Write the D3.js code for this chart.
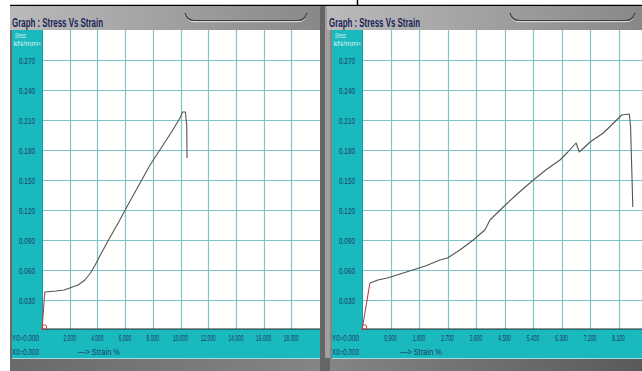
<!DOCTYPE html>
<html>
<head>
<meta charset="utf-8">
<script src="https://cdn.jsdelivr.net/npm/d3@7/dist/d3.min.js"></script>
<style>
  html, body { margin: 0; padding: 0; background: #ffffff; }
  svg { display: block; }
  text { font-family: "Liberation Sans Narrow", "Liberation Sans", Arial, sans-serif; }
</style>
</head>
<body>
<svg id="chart" width="642" height="371"></svg>
<script>
// Tensile test records: strain (%) vs stress (kN/mm²)
const leftStrain  = [0, 0.20, 1.00, 1.60, 2.00, 2.60, 3.10, 3.50, 3.80, 4.10, 4.80, 5.50, 6.20, 7.00, 7.80, 8.60, 9.40, 10.00, 10.15, 10.35, 10.45, 10.47];
const leftStress  = [0, 0.038, 0.039, 0.040, 0.042, 0.045, 0.050, 0.057, 0.064, 0.072, 0.090, 0.107, 0.125, 0.145, 0.165, 0.182, 0.199, 0.213, 0.218, 0.218, 0.205, 0.172];

const rightStrain = [0, 0.25, 0.50, 0.80, 1.20, 1.60, 2.00, 2.46, 2.70, 3.09, 3.51, 3.88, 4.04, 4.46, 4.90, 5.41, 5.80, 6.25, 6.50, 6.76, 6.86, 7.00, 7.20, 7.62, 8.04, 8.20, 8.44, 8.48, 8.55];
const rightStress = [0, 0.047, 0.050, 0.052, 0.056, 0.060, 0.064, 0.070, 0.072, 0.080, 0.090, 0.100, 0.110, 0.123, 0.136, 0.150, 0.160, 0.170, 0.178, 0.187, 0.178, 0.182, 0.188, 0.197, 0.210, 0.215, 0.216, 0.203, 0.123];

const stressTicks      = [0.030, 0.060, 0.090, 0.120, 0.150, 0.180, 0.210, 0.240, 0.270];
const leftStrainTicks  = [2, 4, 6, 8, 10, 12, 14, 16, 18];
const rightStrainTicks = [0.9, 1.8, 2.7, 3.6, 4.5, 5.4, 6.3, 7.2, 8.1];

const titleText = "Graph :  Stress Vs Strain";
const yLabel1 = "Stress";
const yLabel2 = "kN/mm²";
const originY = "Y0=0.000";
const originX = "X0=0.000";
const xLabel = "—> Strain  %";

const TEAL = "#19b9bd";
const GRID = "#7ec5c8";
const INK = "#213a66";

const svg = d3.select("#chart");
const defs = svg.append("defs");

const hdrGrad = defs.append("linearGradient").attr("id", "hdr").attr("x1", 0).attr("x2", 1).attr("y1", 0).attr("y2", 0);
hdrGrad.append("stop").attr("offset", 0).attr("stop-color", "#bababa");
hdrGrad.append("stop").attr("offset", 1).attr("stop-color", "#888888");

const footGrad = defs.append("linearGradient").attr("id", "foot").attr("x1", 0).attr("x2", 1).attr("y1", 0).attr("y2", 0);
footGrad.append("stop").attr("offset", 0).attr("stop-color", "#6a6a6a");
footGrad.append("stop").attr("offset", 0.5).attr("stop-color", "#858585");
footGrad.append("stop").attr("offset", 1).attr("stop-color", "#5a5a5a");

// frame: white margin with a thin black rule above the panels
svg.append("rect").attr("x", 10).attr("y", 6).attr("width", 632).attr("height", 365).attr("fill", "url(#foot)");
svg.append("line").attr("x1", 10).attr("x2", 642).attr("y1", 5.5).attr("y2", 5.5).attr("stroke", "#000").attr("stroke-width", 1.5);
svg.append("line").attr("x1", 357.5).attr("x2", 357.5).attr("y1", 0).attr("y2", 6).attr("stroke", "#000").attr("stroke-width", 1.5);

const y = d3.scaleLinear().domain([0, 0.3]).range([330, 30]);

function drawPanel(cfg) {
  const g = svg.append("g");
  const x = d3.scaleLinear().domain([0, cfg.xMax]).range([cfg.plotLeft, cfg.plotRight]);

  // header strip
  g.append("rect").attr("x", cfg.panelLeft).attr("y", 6).attr("width", cfg.plotRight - cfg.panelLeft).attr("height", 24).attr("fill", "url(#hdr)");
  g.append("text").attr("x", cfg.panelLeft + 2).attr("y", 26.5)
    .attr("font-size", 12.5).attr("font-weight", "bold").attr("fill", "#1b2458")
    .attr("textLength", 91).attr("lengthAdjust", "spacingAndGlyphs")
    .text(titleText);

  // tab outline in the header
  const tx0 = cfg.tabLeft, tx1 = cfg.tabRight;
  const tab = `M${tx0},13 Q${tx0 + 2},20.5 ${tx0 + 9},20.5 L${tx1 - 9},20.5 Q${tx1 - 2},20.5 ${tx1},13`;
  g.append("path").attr("d", tab).attr("transform", "translate(0,1.2)").attr("fill", "none").attr("stroke", "#e4e4e4").attr("stroke-width", 1);
  g.append("path").attr("d", tab).attr("fill", "none").attr("stroke", "#3c3c3c").attr("stroke-width", 1.2);

  // teal axis column and footer band
  g.append("rect").attr("x", cfg.colLeft).attr("y", 30).attr("width", cfg.plotLeft - cfg.colLeft).attr("height", 328).attr("fill", TEAL);
  g.append("rect").attr("x", cfg.colLeft).attr("y", 329).attr("width", cfg.plotRight - cfg.colLeft).attr("height", 29).attr("fill", TEAL);
  g.append("line").attr("x1", cfg.colLeft).attr("x2", cfg.plotRight).attr("y1", 358.5).attr("y2", 358.5).attr("stroke", "#9fdcdc").attr("stroke-width", 1);

  // plot area
  g.append("rect").attr("x", cfg.plotLeft).attr("y", 30).attr("width", cfg.plotRight - cfg.plotLeft).attr("height", 299).attr("fill", "#ffffff");

  // grid
  g.append("g").selectAll("line").data(cfg.xTicks).join("line")
    .attr("x1", d => Math.round(x(d)) + 0.5).attr("x2", d => Math.round(x(d)) + 0.5)
    .attr("y1", 30).attr("y2", 329)
    .attr("stroke", GRID).attr("stroke-width", 1.2);
  g.append("g").selectAll("line").data(stressTicks).join("line")
    .attr("x1", cfg.plotLeft).attr("x2", cfg.plotRight)
    .attr("y1", d => Math.round(y(d)) + 0.5).attr("y2", d => Math.round(y(d)) + 0.5)
    .attr("stroke", GRID).attr("stroke-width", 1.2);

  // axis lines
  g.append("line").attr("x1", cfg.plotLeft).attr("x2", cfg.plotRight).attr("y1", 329).attr("y2", 329).attr("stroke", "#2a2a2a").attr("stroke-width", 1.2);
  g.append("line").attr("x1", cfg.plotLeft + 0.5).attr("x2", cfg.plotLeft + 0.5).attr("y1", 30).attr("y2", 329).attr("stroke", "#0f9ea2").attr("stroke-width", 1);

  // y tick labels
  const colMid = (cfg.colLeft + cfg.plotLeft) / 2;
  g.append("g").selectAll("text").data(stressTicks).join("text")
    .attr("x", colMid).attr("y", d => y(d) + 3.5)
    .attr("text-anchor", "middle").attr("font-size", 9).attr("fill", INK)
    .attr("textLength", 16).attr("lengthAdjust", "spacingAndGlyphs")
    .text(d => d3.format(".3f")(d));

  // y axis caption
  g.append("text").attr("x", cfg.colLeft + 3).attr("y", 38).attr("font-size", 7).attr("fill", "#d6f3f3")
    .attr("textLength", 11).attr("lengthAdjust", "spacingAndGlyphs").text(yLabel1);
  g.append("text").attr("x", cfg.colLeft + 1.5).attr("y", 45.5).attr("font-size", 7).attr("fill", "#d6f3f3")
    .attr("textLength", 27).attr("lengthAdjust", "spacingAndGlyphs").text(yLabel2);

  // x tick labels
  g.append("g").selectAll("text").data(cfg.xTicks).join("text")
    .attr("x", d => x(d)).attr("y", 341)
    .attr("text-anchor", "middle").attr("font-size", 9).attr("fill", INK)
    .attr("textLength", d => d3.format(".3f")(d).length * 2.5)
    .attr("lengthAdjust", "spacingAndGlyphs")
    .text(d => d3.format(".3f")(d));

  // footer captions
  g.append("text").attr("x", cfg.colLeft).attr("y", 340.5).attr("font-size", 9).attr("fill", INK)
    .attr("textLength", 27).attr("lengthAdjust", "spacingAndGlyphs").text(originY);
  g.append("text").attr("x", cfg.colLeft).attr("y", 354.5).attr("font-size", 9).attr("fill", INK)
    .attr("textLength", 27).attr("lengthAdjust", "spacingAndGlyphs").text(originX);
  g.append("text").attr("x", cfg.xLabelX).attr("y", 354.5).attr("font-size", 9).attr("fill", INK)
    .attr("textLength", 42).attr("lengthAdjust", "spacingAndGlyphs").text(xLabel);

  // stress-strain curve
  const pts = cfg.strain.map((s, i) => [s, cfg.stress[i]]);
  const line = d3.line().x(d => x(d[0])).y(d => y(d[1]));
  g.append("path").datum(pts.slice(1)).attr("d", line)
    .attr("fill", "none").attr("stroke", "#555555").attr("stroke-width", 1.1).attr("stroke-linejoin", "round");
  // initial loading segment and origin marker
  g.append("path").datum(pts.slice(0, 2)).attr("d", line)
    .attr("fill", "none").attr("stroke", "#a84848").attr("stroke-width", 1.1);
  g.append("circle").attr("cx", x(0) + 2.5).attr("cy", y(0) - 3).attr("r", 2.2)
    .attr("fill", "none").attr("stroke", "#d04040").attr("stroke-width", 1);
}

drawPanel({
  panelLeft: 10, colLeft: 12, plotLeft: 42, plotRight: 320, xMax: 20.07,
  tabLeft: 185, tabRight: 307, xLabelX: 78,
  xTicks: leftStrainTicks, strain: leftStrain, stress: leftStress
});

// divider between the two panels
svg.append("rect").attr("x", 320).attr("y", 6).attr("width", 10).attr("height", 365).attr("fill", "#666666");
svg.append("rect").attr("x", 325).attr("y", 6).attr("width", 5).attr("height", 352).attr("fill", "#a0a0a0");

drawPanel({
  panelLeft: 327, colLeft: 332, plotLeft: 362, plotRight: 642, xMax: 8.84,
  tabLeft: 510, tabRight: 635, xLabelX: 400,
  xTicks: rightStrainTicks, strain: rightStrain, stress: rightStress
});
</script>
</body>
</html>
